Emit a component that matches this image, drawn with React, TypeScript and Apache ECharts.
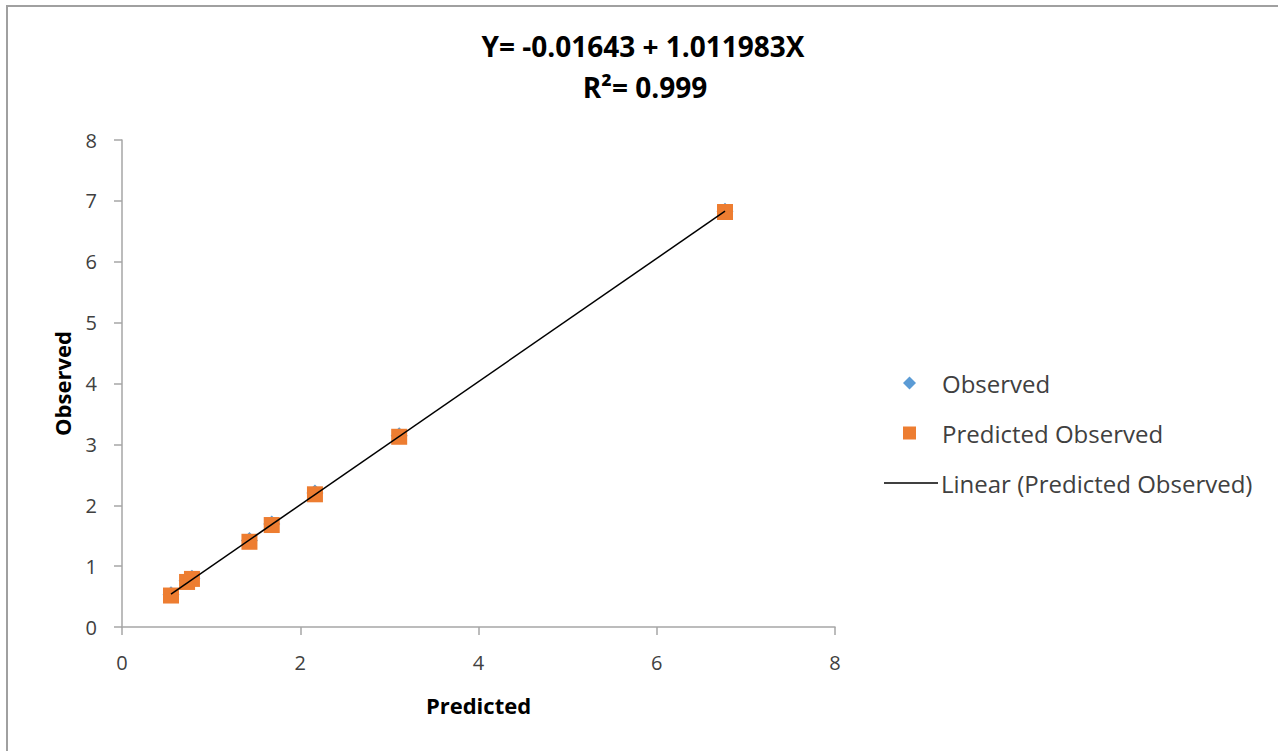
import React, { useEffect, useRef } from "react";
import * as echarts from "echarts";

const predictedX = [0.55, 0.73, 0.785, 1.43, 1.68, 2.165, 3.11, 6.766];
const observedY = [0.53, 0.76, 0.8, 1.42, 1.69, 2.2, 3.14, 6.83];
const predictedObservedY = [0.517, 0.74, 0.79, 1.4, 1.675, 2.18, 3.125, 6.817];
const trendX = [0.55, 6.766];
const intercept = -0.01643;
const slope = 1.011983;
const titleLines = ["Y= -0.01643 + 1.011983X", "R²= 0.999"];

const FONT = "'Open Sans', 'Liberation Sans', sans-serif";

export default function App() {
  const ref = useRef<HTMLDivElement>(null);
  useEffect(() => {
    document.body.style.margin = "0";
    document.body.style.overflow = "hidden";
    const chart = echarts.init(ref.current!, null, { renderer: "svg" });
    const trend = trendX.map((x) => [x, intercept + slope * x]);
    const legendText = { fontFamily: FONT, fontSize: 24, lineHeight: 24, color: "#404040" };
    chart.setOption({
      animation: false,
      backgroundColor: "#ffffff",
      textStyle: { fontFamily: FONT },
      grid: { left: 122, top: 140, width: 713, height: 487, containLabel: false },
      xAxis: {
        type: "value",
        min: 0,
        max: 8,
        interval: 2,
        name: "Predicted",
        nameLocation: "middle",
        nameGap: 67,
        nameTextStyle: { fontFamily: FONT, fontWeight: "bold", fontSize: 22, color: "#000" },
        axisLine: { show: true, onZero: false, lineStyle: { color: "#a6a6a6", width: 1.5 } },
        axisTick: { show: true, length: 8, lineStyle: { color: "#a6a6a6", width: 1.5 } },
        axisLabel: { fontFamily: FONT, fontSize: 20, color: "#404040", margin: 25 },
        splitLine: { show: false },
      },
      yAxis: {
        type: "value",
        min: 0,
        max: 8,
        interval: 1,
        name: "Observed",
        nameLocation: "middle",
        nameGap: 49,
        nameTextStyle: { fontFamily: FONT, fontWeight: "bold", fontSize: 22, color: "#000" },
        axisLine: { show: true, onZero: false, lineStyle: { color: "#a6a6a6", width: 1.5 } },
        axisTick: { show: true, length: 8, lineStyle: { color: "#a6a6a6", width: 1.5 } },
        axisLabel: { fontFamily: FONT, fontSize: 20, color: "#404040", margin: 25 },
        splitLine: { show: false },
      },
      legend: [
        {
          orient: "vertical",
          left: 903,
          top: 371,
          padding: 0,
          itemWidth: 13,
          itemHeight: 13,
          itemGap: 0,
          textStyle: { ...legendText, padding: [0, 0, 0, 21] },
          data: [{ name: "Observed", icon: "diamond" }],
        },
        {
          orient: "vertical",
          left: 903,
          top: 421,
          padding: 0,
          itemWidth: 13,
          itemHeight: 13,
          itemGap: 0,
          textStyle: { ...legendText, padding: [0, 0, 0, 21] },
          data: [{ name: "Predicted Observed", icon: "rect" }],
        },
        {
          orient: "vertical",
          left: 884,
          top: 471,
          padding: 0,
          itemWidth: 54,
          itemHeight: 1.5,
          itemGap: 0,
          textStyle: { ...legendText, padding: [0, 0, 0, -2] },
          data: [{ name: "Linear (Predicted Observed)", icon: "rect" }],
        },
      ],
      series: [
        {
          name: "Observed",
          type: "scatter",
          symbol: "diamond",
          symbolSize: 17,
          itemStyle: { color: "#5B9BD5", opacity: 1 },
          data: predictedX.map((x, i) => [x, observedY[i]]),
          z: 2,
        },
        {
          name: "Predicted Observed",
          type: "scatter",
          symbol: "rect",
          symbolSize: 16,
          itemStyle: { color: "#ED7D31", opacity: 1 },
          data: predictedX.map((x, i) => [x, predictedObservedY[i]]),
          z: 3,
        },
        {
          name: "Linear (Predicted Observed)",
          type: "line",
          symbol: "none",
          showSymbol: false,
          lineStyle: { color: "#000", width: 1.5 },
          itemStyle: { color: "#000" },
          data: trend,
          z: 4,
        },
      ],
      graphic: [
        {
          type: "polyline",
          shape: { points: [[7, 760], [7, 6], [1290, 6]] },
          style: { stroke: "#a0a0a0", lineWidth: 2, fill: "none" },
          silent: true,
        },
        {
          type: "text",
          x: 643,
          y: 46,
          style: {
            text: titleLines[0],
            fontFamily: FONT,
            fontWeight: "bold",
            fontSize: 28,
            fill: "#000",
            align: "center",
            verticalAlign: "middle",
          },
        },
        {
          type: "text",
          x: 645,
          y: 87,
          style: {
            text: titleLines[1],
            fontFamily: FONT,
            fontWeight: "bold",
            fontSize: 28,
            fill: "#000",
            align: "center",
            verticalAlign: "middle",
          },
        },
      ],
    });
    return () => chart.dispose();
  }, []);
  return <div ref={ref} style={{ position: "absolute", left: 0, top: 0, width: 1278, height: 751 }} />;
}
